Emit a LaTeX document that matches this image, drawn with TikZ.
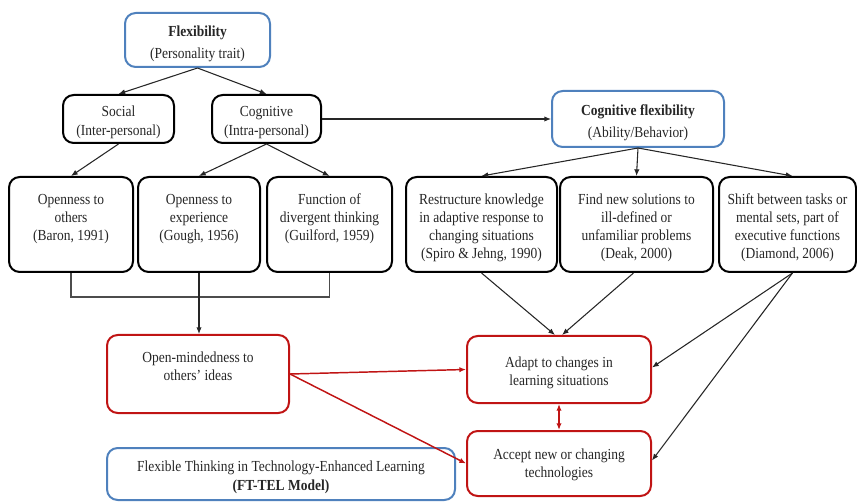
\documentclass[tikz,border=0pt]{standalone}
\usepackage{fontspec}
\setmainfont[FakeStretch=0.88]{Liberation Serif}
\usetikzlibrary{arrows.meta,calc}
\definecolor{bblue}{RGB}{79,129,189}
\definecolor{rred}{RGB}{192,20,20}
\newcommand\bx[7]{\node[#1, minimum width={(#5-#3)*0.75pt}, minimum height={(#6-#4)*0.75pt}] (#2) at ({(#3+#5)/2},{(#4+#6)/2}) {\raisebox{-2.5pt}[\height][\depth]{\begin{tabular}{@{}c@{}}#7\end{tabular}}};}
\begin{document}
\begin{tikzpicture}[x=0.75pt,y=-0.75pt,
  every node/.style={font=\fontsize{11.5}{13.7}\selectfont},
  box/.style={draw=black, line width=1.5pt, rounded corners=8pt, inner sep=0pt, align=center, text=black!85},
  bluebox/.style={box, draw=bblue},
  redbox/.style={box, draw=rred},
  big/.style={font=\fontsize{11.5}{16.5}\selectfont},
  arr/.style={-{Latex[length=5pt,width=4pt]}, line width=0.8pt, black!85},
  rarr/.style={-{Latex[length=5pt,width=4pt]}, line width=1.1pt, rred},
  plain/.style={line width=0.8pt, black!70}]
\useasboundingbox (0,0) rectangle (857,502);

\bx{bluebox,big}{flex}{125}{13}{270}{67}{\textbf{Flexibility}\\(Personality trait)}
\bx{box}{social}{63}{95}{174}{143}{Social\\(Inter-personal)}
\bx{box}{cog}{212}{95}{321}{143}{Cognitive\\(Intra-personal)}
\bx{bluebox,big}{cogflex}{552}{91}{724}{147}{\textbf{Cognitive flexibility}\\(Ability/Behavior)}

\bx{box}{others}{9}{177}{133}{272}{Openness to\\others\\(Baron, 1991)\\ \mbox{}}
\bx{box}{exp}{138}{177}{260}{272}{Openness to\\experience\\(Gough, 1956)\\ \mbox{}}
\bx{box}{func}{267}{177}{392}{272}{Function of\\divergent thinking\\(Guilford, 1959)\\ \mbox{}}
\bx{box}{restr}{406}{177}{557}{272}{Restructure knowledge\\in adaptive response to\\changing situations\\(Spiro \& Jehng, 1990)}
\bx{box}{find}{560}{177}{713}{272}{Find new solutions to\\ill-defined or\\unfamiliar problems\\(Deak, 2000)}
\bx{box}{shift}{719}{177}{856}{272}{Shift between tasks or\\mental sets, part of\\executive functions\\(Diamond, 2006)}

\bx{redbox}{openm}{107}{335}{289}{413}{Open-mindedness to\\others' ideas\\ \mbox{}}
\bx{redbox}{adapt}{467}{336}{651}{403}{Adapt to changes in\\learning situations}
\bx{redbox}{accept}{467}{431}{651}{496}{Accept new or changing\\technologies\\[3pt]}
\bx{bluebox}{ftel}{107}{448}{455}{500}{Flexible Thinking in Technology-Enhanced Learning\\\textbf{(FT-TEL Model)}}

\draw[arr] (flex.south) -- (social.north);
\draw[arr] (flex.south) -- (cog.north);
\draw[arr] (cog.east) -- (cog.east -| cogflex.west);
\draw[arr] (social.south) -- (others.north);
\draw[arr] (cog.south) -- (exp.north);
\draw[arr] (cog.south) -- (func.north);
\draw[arr] (cogflex.south) -- (restr.north);
\draw[arr] (cogflex.south) -- (find.north);
\draw[arr] (cogflex.south) -- ($(shift.north)+(5,0)$);

\draw[plain] (others.south) -- ++(0,24) -| (func.south);
\draw[arr] (exp.south) -- (exp.south |- openm.north);

\draw[arr] (restr.south) -- ($(adapt.north)+(-4,0)$);
\draw[arr] ($(find.south)+(-3,0)$) -- ($(adapt.north)+(3,0)$);
\coordinate (sh) at ($(shift.south)+(5,0)$);
\draw[arr] (sh) -- ($(adapt.east)+(0,-2)$);
\draw[arr] (sh) -- ($(accept.east)+(0,-3)$);

\draw[rarr] (openm.east) -- (adapt.west);
\draw[rarr] (openm.east) -- (accept.west);
\draw[rarr, {Latex[length=5pt,width=4pt]}-{Latex[length=5pt,width=4pt]}] (adapt.south) -- (accept.north);
\end{tikzpicture}
\end{document}
